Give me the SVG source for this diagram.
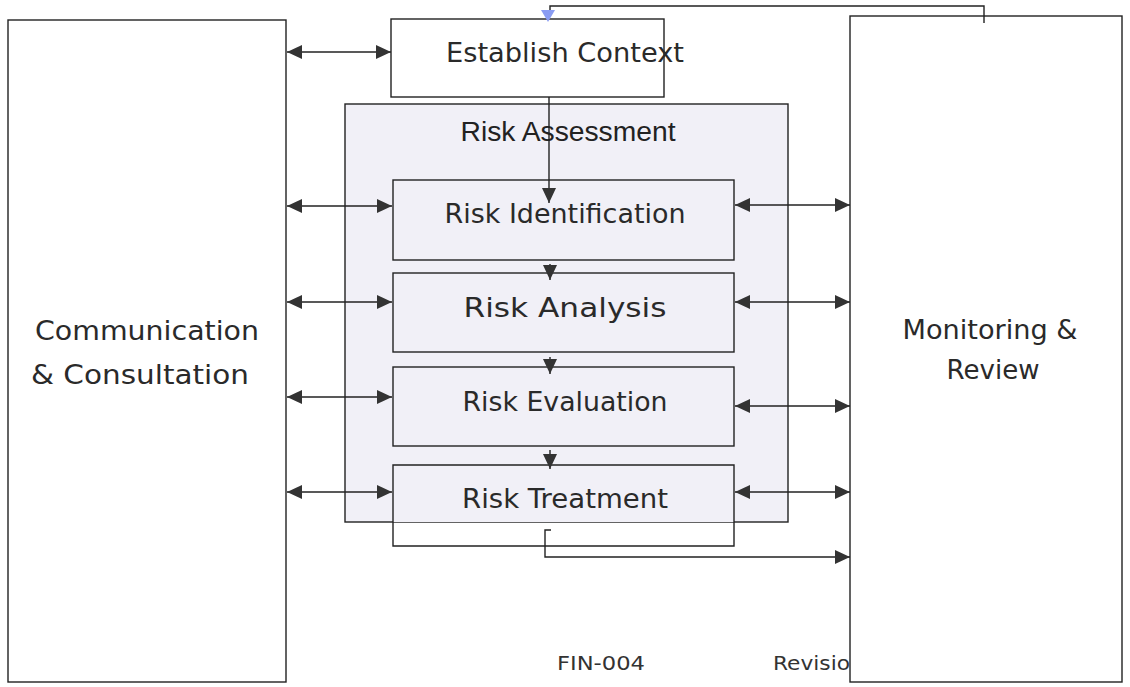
<svg xmlns="http://www.w3.org/2000/svg" width="1130" height="687" viewBox="0 0 1130 687">
<style>
.box{fill:#fff;stroke:#222;stroke-width:1.4}
.inner{fill:#f1f0f7;stroke:#222;stroke-width:1.4}
.lbl{font-family:"DejaVu Sans","Noto Sans",sans-serif;font-size:26px;fill:#2a2a2a;text-anchor:middle}
.ra{font-family:"Liberation Sans",Arial,sans-serif;font-size:27px;fill:#222;text-anchor:middle}
.foot{font-family:"DejaVu Sans","Noto Sans",sans-serif;font-size:20px;fill:#333}
.ln{fill:none;stroke:#222;stroke-width:1.4}
</style>
<defs>
<marker id="ah" markerWidth="15" markerHeight="14" refX="15" refY="7" orient="auto-start-reverse" markerUnits="userSpaceOnUse">
<path d="M0,0 L15,7 L0,14 Z" fill="#333"/>
</marker>
</defs>
<text class="foot" x="557" y="670" textLength="88" lengthAdjust="spacingAndGlyphs">FIN-004</text>
<text class="foot" x="773" y="670" textLength="77" lengthAdjust="spacingAndGlyphs">Revisio</text>
<g id="communication">
<rect class="box" x="8" y="20" width="278" height="662"/>
<text class="lbl" x="147" y="340" textLength="224" lengthAdjust="spacingAndGlyphs">Communication</text>
<text class="lbl" x="140" y="384" textLength="218" lengthAdjust="spacingAndGlyphs">&amp; Consultation</text>
</g>
<g id="monitoring">
<rect class="box" x="850" y="16" width="272" height="666"/>
<text class="lbl" x="990" y="339" textLength="175" lengthAdjust="spacingAndGlyphs">Monitoring &amp;</text>
<text class="lbl" x="993" y="379" textLength="93" lengthAdjust="spacingAndGlyphs">Review</text>
</g>
<g id="establish-context">
<rect class="box" x="391" y="19" width="273" height="78"/>
<text class="lbl" x="565" y="62" textLength="238" lengthAdjust="spacingAndGlyphs">Establish Context</text>
</g>
<g id="risk-assessment">
<rect class="inner" x="345" y="104" width="443" height="418"/>
<text class="ra" x="568" y="141" textLength="215" lengthAdjust="spacingAndGlyphs">Risk Assessment</text>
</g>
<g id="risk-identification">
<rect class="inner" x="393" y="180" width="341" height="80"/>
<text class="lbl" x="565" y="223" textLength="241" lengthAdjust="spacingAndGlyphs">Risk Identification</text>
</g>
<g id="risk-analysis">
<rect class="inner" x="393" y="273" width="341" height="79"/>
<text class="lbl" x="565" y="317" textLength="203" lengthAdjust="spacingAndGlyphs">Risk Analysis</text>
</g>
<g id="risk-evaluation">
<rect class="inner" x="393" y="367" width="341" height="79"/>
<text class="lbl" x="565" y="411" textLength="205" lengthAdjust="spacingAndGlyphs">Risk Evaluation</text>
</g>
<g id="risk-treatment">
<path class="ln" d="M393,522 V546 H734 V522"/>
<rect x="393" y="465" width="341" height="57" fill="#f1f0f7"/>
<path class="ln" d="M393,522 V465 H734 V522"/>
<text class="lbl" x="565" y="508" textLength="206" lengthAdjust="spacingAndGlyphs">Risk Treatment</text>
</g>
<g id="connectors">
<path class="ln" d="M287,52 H391" marker-start="url(#ah)" marker-end="url(#ah)"/>
<path class="ln" d="M287,206 H392" marker-start="url(#ah)" marker-end="url(#ah)"/>
<path class="ln" d="M287,302 H392" marker-start="url(#ah)" marker-end="url(#ah)"/>
<path class="ln" d="M287,397 H392" marker-start="url(#ah)" marker-end="url(#ah)"/>
<path class="ln" d="M287,492 H392" marker-start="url(#ah)" marker-end="url(#ah)"/>
<path class="ln" d="M735,205 H850" marker-start="url(#ah)" marker-end="url(#ah)"/>
<path class="ln" d="M735,302 H850" marker-start="url(#ah)" marker-end="url(#ah)"/>
<path class="ln" d="M735,406 H850" marker-start="url(#ah)" marker-end="url(#ah)"/>
<path class="ln" d="M735,492 H850" marker-start="url(#ah)" marker-end="url(#ah)"/>
<path class="ln" d="M549,97 V203" marker-end="url(#ah)"/>
<path class="ln" d="M550,264 V280" marker-end="url(#ah)"/>
<path class="ln" d="M550,357 V374" marker-end="url(#ah)"/>
<path class="ln" d="M550,450 V469" marker-end="url(#ah)"/>
<path class="ln" d="M551,530 H545 V557 H850" marker-end="url(#ah)"/>
<path class="ln" d="M984,23 V6 H550 V10"/>
<path d="M541,10 L555,10 L548,22 Z" fill="#8a9cf2"/>
</g>
</svg>
